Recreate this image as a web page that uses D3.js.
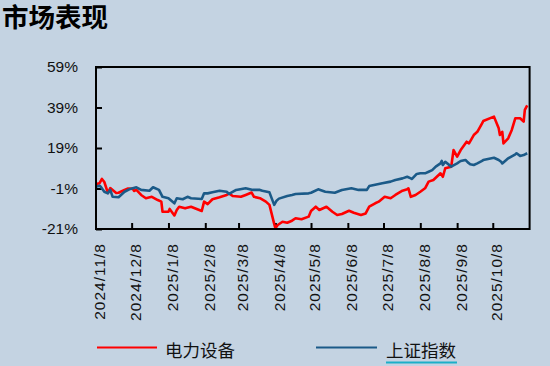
<!DOCTYPE html>
<html><head><meta charset="utf-8">
<script src="https://cdn.jsdelivr.net/npm/d3@7"></script>
<style>
html,body{margin:0;padding:0;background:#C4D3E2;}
svg{display:block;}
</style></head>
<body>
<svg id="c" width="550" height="366"></svg>
<script>
const seriesNames = ["电力设备", "上证指数"];
const yTicks = [-21, -1, 19, 39, 59];
const xTickDates = ["2024-11-08","2024-12-08","2025-01-08","2025-02-08","2025-03-08","2025-04-08","2025-05-08","2025-06-08","2025-07-08","2025-08-08","2025-09-08","2025-10-08"];
const xTickLabels = ["2024/11/8","2024/12/8","2025/1/8","2025/2/8","2025/3/8","2025/4/8","2025/5/8","2025/6/8","2025/7/8","2025/8/8","2025/9/8","2025/10/8"];

const redDates = ["2024-11-08","2024-11-11","2024-11-13","2024-11-15","2024-11-18","2024-11-20","2024-11-25","2024-11-27","2024-12-02","2024-12-05","2024-12-09","2024-12-10","2024-12-12","2024-12-16","2024-12-20","2024-12-25","2024-12-30","2025-01-02","2025-01-03","2025-01-08","2025-01-09","2025-01-13","2025-01-15","2025-01-17","2025-01-22","2025-01-27","2025-02-05","2025-02-07","2025-02-10","2025-02-14","2025-02-20","2025-02-26","2025-02-28","2025-03-03","2025-03-10","2025-03-14","2025-03-19","2025-03-21","2025-03-26","2025-03-31","2025-04-03","2025-04-07","2025-04-08","2025-04-10","2025-04-14","2025-04-18","2025-04-22","2025-04-25","2025-04-30","2025-05-06","2025-05-08","2025-05-12","2025-05-15","2025-05-21","2025-05-26","2025-05-30","2025-06-03","2025-06-09","2025-06-13","2025-06-19","2025-06-23","2025-06-26","2025-07-01","2025-07-04","2025-07-09","2025-07-14","2025-07-18","2025-07-24","2025-07-28","2025-07-29","2025-07-31","2025-08-04","2025-08-08","2025-08-12","2025-08-15","2025-08-19","2025-08-25","2025-08-27","2025-08-29","2025-09-03","2025-09-05","2025-09-08","2025-09-11","2025-09-16","2025-09-18","2025-09-22","2025-09-25","2025-09-29","2025-09-30","2025-10-09","2025-10-13","2025-10-14","2025-10-16","2025-10-17","2025-10-21","2025-10-24","2025-10-27","2025-10-31","2025-11-03","2025-11-04","2025-11-06"];
const redValues = [1.2,1.6,3.7,2.2,-3.2,-0.8,-3.2,-3.1,-1.7,-1.0,-1.2,-2.2,-1.7,-4.2,-5.8,-5.1,-6.7,-7.5,-12.5,-12.5,-11.1,-14.3,-11.6,-10.0,-10.8,-10.0,-12.1,-7.5,-8.7,-6.3,-5.3,-4.2,-3.4,-4.7,-5.1,-4.2,-3.0,-5.1,-5.8,-7.5,-9.1,-18.5,-20.6,-19.0,-17.4,-17.9,-16.9,-15.7,-16.2,-14.9,-12.1,-10.0,-11.6,-10.0,-12.5,-14.1,-13.6,-12.0,-13.0,-14.1,-13.3,-10.0,-8.3,-7.5,-5.1,-5.8,-4.2,-2.1,-1.4,-0.9,-5.1,-4.2,-2.6,-0.9,2.4,3.2,6.5,4.8,9.0,9.8,18.0,14.7,18.0,22.1,21.3,25.4,27.0,31.2,32.3,34.5,28.7,25.4,27.0,21.3,23.8,27.9,33.7,33.7,32.0,37.8,40.0];

const blueDates = ["2024-11-08","2024-11-11","2024-11-12","2024-11-15","2024-11-18","2024-11-20","2024-11-22","2024-11-27","2024-12-02","2024-12-06","2024-12-12","2024-12-16","2024-12-23","2024-12-26","2024-12-31","2025-01-03","2025-01-08","2025-01-13","2025-01-15","2025-01-20","2025-01-24","2025-01-27","2025-02-05","2025-02-07","2025-02-10","2025-02-14","2025-02-20","2025-02-26","2025-02-28","2025-03-06","2025-03-14","2025-03-20","2025-03-26","2025-03-28","2025-04-03","2025-04-07","2025-04-09","2025-04-11","2025-04-18","2025-04-22","2025-04-25","2025-05-06","2025-05-08","2025-05-14","2025-05-20","2025-05-28","2025-06-03","2025-06-11","2025-06-17","2025-06-24","2025-06-26","2025-07-07","2025-07-14","2025-07-18","2025-07-24","2025-07-28","2025-07-31","2025-08-01","2025-08-05","2025-08-08","2025-08-12","2025-08-15","2025-08-18","2025-08-21","2025-08-25","2025-08-26","2025-08-27","2025-08-29","2025-09-03","2025-09-08","2025-09-10","2025-09-11","2025-09-15","2025-09-17","2025-09-19","2025-09-22","2025-09-25","2025-09-29","2025-09-30","2025-10-09","2025-10-13","2025-10-15","2025-10-16","2025-10-21","2025-10-27","2025-10-28","2025-10-31","2025-11-03","2025-11-06"];
const blueValues = [-0.1,0.4,-0.1,-2.6,-3.4,-1.7,-5.1,-5.3,-2.6,-1.4,-0.4,-1.7,-2.1,-0.4,-1.7,-5.1,-5.8,-8.3,-5.8,-6.3,-5.1,-5.8,-6.2,-3.4,-3.4,-2.9,-2.1,-2.6,-3.7,-1.7,-0.9,-1.7,-1.7,-2.1,-2.9,-9.1,-7.0,-6.0,-4.7,-4.2,-3.7,-3.4,-3.1,-1.4,-2.6,-3.1,-1.7,-0.9,-1.7,-1.7,0.2,1.6,2.4,3.2,4.0,4.8,4.0,3.7,6.2,6.5,6.5,7.3,8.1,9.8,11.4,12.6,10.6,12.2,9.8,11.4,12.2,12.6,13.1,11.9,11.0,10.6,11.4,12.6,13.1,14.2,13.1,12.2,11.4,13.9,15.9,16.4,15.1,15.5,16.4];

const parse = d3.timeParse("%Y-%m-%d");
const svg = d3.select("#c");
const L = 96, R = 529.6, T = 67, B = 229;

const x = d3.scaleTime().domain([parse("2024-11-08"), parse("2025-11-08")]).range([L, R]);
const y = d3.scaleLinear().domain([-21, 59]).range([B, T]);

// title
svg.append("text").attr("x", 2).attr("y", 26.5)
  .attr("font-family", "'Noto Sans CJK SC'").attr("font-weight", 700)
  .attr("font-size", 26.5).attr("fill", "#000").text("市场表现");

// y axis labels + ticks
const yAxis = d3.axisLeft(y).tickValues(yTicks).tickSize(-6).tickPadding(18).tickFormat(d => d + "%");
const gy = svg.append("g").attr("transform", `translate(${L},0)`).call(yAxis);
gy.select(".domain").remove();
gy.selectAll(".tick line").attr("stroke", "#000").attr("stroke-width", 2);
gy.selectAll(".tick text").attr("font-family", "'Liberation Sans', Arial, sans-serif")
  .attr("font-size", 15.5).attr("fill", "#111");

// x axis ticks (inward) and rotated labels
const xTicks = xTickDates.map(parse);
const xAxis = d3.axisBottom(x).tickValues(xTicks.slice(1)).tickSize(-6).tickFormat("");
const gx = svg.append("g").attr("transform", `translate(0,${B})`).call(xAxis);
gx.select(".domain").remove();
gx.selectAll(".tick line").attr("stroke", "#000").attr("stroke-width", 2);

svg.append("g").selectAll("text").data(xTicks).join("text")
  .attr("transform", d => `translate(${x(d) + 4},${243}) rotate(-90)`)
  .attr("text-anchor", "end").attr("dy", "0.35em")
  .attr("font-family", "'Liberation Sans', Arial, sans-serif")
  .attr("font-size", 15.5).attr("letter-spacing", 1).attr("fill", "#111")
  .text((d, i) => xTickLabels[i]);

// lines
const line = d3.line().x(d => x(d[0])).y(d => y(d[1]));
const red = redDates.map((d, i) => [parse(d), redValues[i]]);
const blue = blueDates.map((d, i) => [parse(d), blueValues[i]]);
svg.append("path").datum(red).attr("d", line).attr("fill", "none")
  .attr("stroke", "#FF0000").attr("stroke-width", 2.6).attr("stroke-linejoin", "round");
svg.append("path").datum(blue).attr("d", line).attr("fill", "none")
  .attr("stroke", "#1B5A88").attr("stroke-width", 2.6).attr("stroke-linejoin", "round");

// frame
svg.append("rect").attr("x", L).attr("y", T).attr("width", R - L).attr("height", B - T)
  .attr("fill", "none").attr("stroke", "#000").attr("stroke-width", 2);

// legend
const leg = [
  {name: seriesNames[0], color: "#FF0000", x1: 97, x2: 157, tx: 165},
  {name: seriesNames[1], color: "#1B5A88", x1: 316, x2: 377, tx: 386}
];
leg.forEach(l => {
  svg.append("line").attr("x1", l.x1).attr("x2", l.x2).attr("y1", 347.5).attr("y2", 347.5)
    .attr("stroke", l.color).attr("stroke-width", 2);
  svg.append("text").attr("x", l.tx).attr("y", 356.5)
    .attr("font-family", "'Noto Sans CJK SC'").attr("font-size", 17.5).attr("fill", "#111").text(l.name);
});
svg.append("line").attr("x1", 386).attr("x2", 457).attr("y1", 362.5).attr("y2", 362.5)
  .attr("stroke", "#1AAFC8").attr("stroke-width", 2);
</script>
</body></html>
